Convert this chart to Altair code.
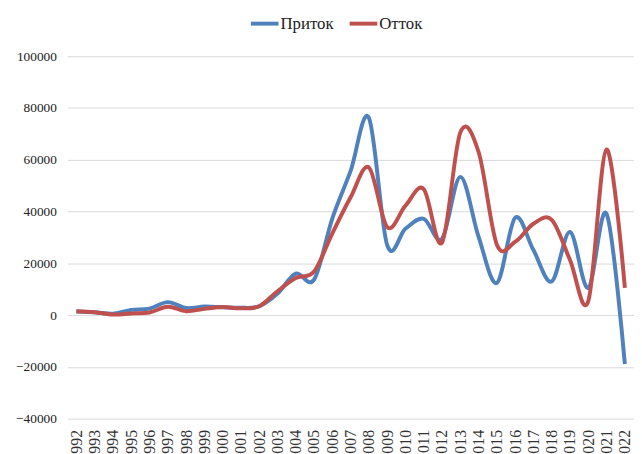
import altair as alt
import pandas as pd

years = [str(y) for y in range(1992, 2023)]
inflow = [1400, 1100, 500, 2000, 2500, 5000, 2700, 3300, 3000, 2800, 3400,
          8300, 16000, 13700, 37400, 55700, 76200, 27000, 33400, 37200, 29500,
          53400, 30200, 12400, 37600, 25100, 13000, 32100, 10500, 39100, -18900]
outflow = [1500, 1100, 200, 600, 1000, 3200, 1500, 2400, 3100, 2600, 3400,
           9200, 14300, 16800, 31600, 45500, 57000, 34000, 42300, 48700, 28000,
           70500, 63000, 27200, 28300, 35300, 36800, 21300, 5400, 64000, 10500]
series_names = ["Приток", "Отток"]
colors = ["#4F81BD", "#C0504D"]
y_ticks = [-40000, -20000, 0, 20000, 40000, 60000, 80000, 100000]

df = pd.concat([
    pd.DataFrame({"year": years, "value": inflow, "series": series_names[0]}),
    pd.DataFrame({"year": years, "value": outflow, "series": series_names[1]}),
])

FONT = "Liberation Serif"

x_enc = alt.X("year:O", sort=years,
              scale=alt.Scale(type="point", padding=0.5),
              axis=alt.Axis(title=None, labelAngle=270, labelFont=FONT, labelFontSize=16,
                            labelColor="#333333", ticks=False, domain=False, grid=False,
                            labelPadding=11, labelOverlap=False))
y_enc = alt.Y("value:Q",
              scale=alt.Scale(domain=[-40000, 100000], nice=False, zero=False),
              axis=alt.Axis(title=None, values=y_ticks, format="d", labelFont=FONT,
                            labelFontSize=13.5, labelColor="#222222", ticks=False,
                            domain=False, gridColor="#D9D9D9", gridWidth=1,
                            labelPadding=11))
color_enc = alt.Color("series:N",
                      scale=alt.Scale(domain=series_names, range=colors),
                      legend=alt.Legend(title=None, orient="none", legendX=184, legendY=-49,
                                        direction="horizontal", columns=2,
                                        symbolType="stroke", symbolStrokeWidth=4,
                                        symbolSize=784, labelFont=FONT, labelFontSize=17,
                                        labelColor="#222222", labelOffset=0,
                                        columnPadding=8, padding=0))

base = alt.Chart(df)
blue = base.transform_filter(alt.datum.series == series_names[0]).mark_line(
    strokeWidth=4, interpolate="cardinal", tension=0
).encode(x=x_enc, y=y_enc, color=color_enc)
red = base.transform_filter(alt.datum.series == series_names[1]).mark_line(
    strokeWidth=4, interpolate="cardinal", tension=0
).encode(x=x_enc, y=y_enc, color=color_enc)

chart = alt.layer(blue, red).properties(
    width=574, height=367,
    autosize=alt.AutoSizeParams(type="none"),
    padding={"left": 60, "top": 46, "right": 0, "bottom": 33},
    background="white",
).configure_view(strokeWidth=0)

chart.save("out.html", embed_options={"renderer": "svg", "actions": False})
